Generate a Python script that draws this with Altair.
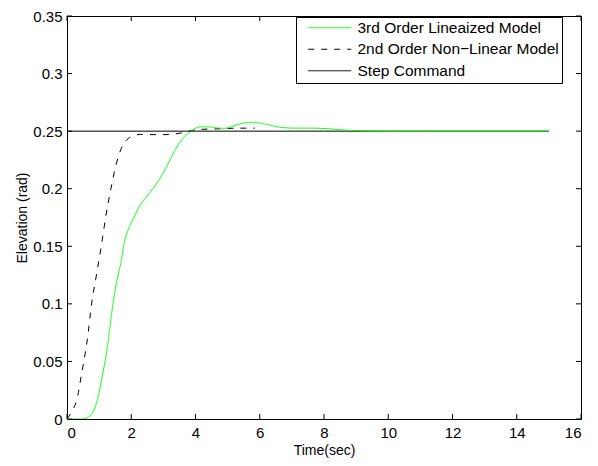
import altair as alt
import pandas as pd

# ---- data ----
series_names = ["3rd Order Lineaized Model", "2nd Order Non\u2212Linear Model", "Step Command"]

green_t = [0, 0.3, 0.5, 0.65, 0.81, 0.91, 1.01, 1.11, 1.22, 1.32, 1.42, 1.58, 1.68, 1.78,
           1.93, 2.09, 2.24, 2.55, 2.85, 3.06, 3.31, 3.57, 3.87, 4.13, 4.39, 4.69, 4.9,
           5.09, 5.51, 5.82, 6.23, 6.63, 7.15, 7.66, 8.17, 8.68, 9.19, 10.0, 11.0, 15.0]
green_v = [0, 0, 0, 0.0017, 0.006, 0.013, 0.0245, 0.039, 0.056, 0.076, 0.098, 0.124, 0.136,
           0.153, 0.166, 0.1755, 0.184, 0.1955, 0.207, 0.217, 0.231, 0.2425, 0.25, 0.2537,
           0.2537, 0.2528, 0.2524, 0.2537, 0.2571, 0.2577, 0.2557, 0.2534, 0.2526, 0.2526,
           0.252, 0.2509, 0.2503, 0.25, 0.25, 0.25]

dash_t = [0, 0.1, 0.2, 0.3, 0.45, 0.65, 0.76, 0.91, 1.06, 1.22, 1.37, 1.52, 1.68, 1.83,
          1.99, 2.29, 2.85, 3.26, 3.67, 4.08, 4.7, 5.31, 5.85]
dash_v = [0, 0.004, 0.009, 0.016, 0.0386, 0.0727, 0.099, 0.124, 0.149, 0.178, 0.2004,
          0.220, 0.2344, 0.2415, 0.2451, 0.2472, 0.2469, 0.2472, 0.2491, 0.2514, 0.252,
          0.2526, 0.2526]

step_t = [0, 15]
step_v = [0.25, 0.25]

x_ticks = [0, 2, 4, 6, 8, 10, 12, 14, 16]
y_ticks = [0, 0.05, 0.1, 0.15, 0.2, 0.25, 0.3, 0.35]

# ---- build tables ----
def table(ts, vs, name):
    return pd.DataFrame({"t": ts, "v": vs, "series": name, "i": list(range(len(ts)))})

df_green = table(green_t, green_v, series_names[0])
df_dash = table(dash_t, dash_v, series_names[1])
df_step = table(step_t, step_v, series_names[2])

W, H = 514, 403
FONT = "Liberation Sans"

xscale = alt.Scale(domain=[0, 16], nice=False, zero=False)
yscale = alt.Scale(domain=[0, 0.35], nice=False, zero=False)

xaxis = alt.Axis(values=x_ticks, title="Time(sec)", format="~g")
yaxis = alt.Axis(values=y_ticks, title="Elevation (rad)", format="~g")

color_scale = alt.Scale(domain=series_names, range=["#00ff00", "#000000", "#000000"])
dash_scale = alt.Scale(domain=series_names, range=[[1, 0], [6, 7], [1, 0]])

legend = alt.Legend(
    title=None, orient="none", legendX=229, legendY=1,
    symbolType="M-5,0H5", symbolSize=74, symbolStrokeWidth=1,
    labelFontSize=15.5, labelFont=FONT, labelColor="black", labelLimit=400,
    labelExpr="datum.label + '  '",
    labelOffset=20, symbolOffset=23,
    strokeColor="black", fillColor="white", padding=3, rowPadding=4.5, cornerRadius=0,
)


def line_layer(df):
    return alt.Chart(df).mark_line(strokeWidth=1, interpolate="monotone", clip=True).encode(
        x=alt.X("t:Q", scale=xscale, axis=xaxis),
        y=alt.Y("v:Q", scale=yscale, axis=yaxis),
        color=alt.Color("series:N", scale=color_scale, legend=legend),
        strokeDash=alt.StrokeDash("series:N", scale=dash_scale, legend=legend),
        order="i:Q",
    )


step_layer = line_layer(df_step)
dash_layer = line_layer(df_dash)
green_layer = line_layer(df_green)

xt = pd.DataFrame({"t": x_ticks})
yt = pd.DataFrame({"v": y_ticks})

tick_bottom = alt.Chart(xt).mark_rule(color="black", strokeWidth=1).encode(
    x=alt.X("t:Q", scale=xscale, axis=xaxis), y=alt.value(H), y2=alt.value(H - 5))
tick_top = alt.Chart(xt).mark_rule(color="black", strokeWidth=1).encode(
    x=alt.X("t:Q", scale=xscale, axis=xaxis), y=alt.value(0), y2=alt.value(5))
tick_left = alt.Chart(yt).mark_rule(color="black", strokeWidth=1).encode(
    y=alt.Y("v:Q", scale=yscale, axis=yaxis), x=alt.value(0), x2=alt.value(5))
tick_right = alt.Chart(yt).mark_rule(color="black", strokeWidth=1).encode(
    y=alt.Y("v:Q", scale=yscale, axis=yaxis), x=alt.value(W), x2=alt.value(W - 5))

chart = alt.layer(
    tick_bottom, tick_top, tick_left, tick_right, step_layer, dash_layer, green_layer
).properties(
    width=W, height=H,
    autosize=alt.AutoSizeParams(type="none"),
    padding={"left": 59, "top": 8, "right": 9, "bottom": 39},
).configure_view(
    stroke="black", strokeWidth=1
).configure_axis(
    domain=False, ticks=False, grid=False,
    labelFont=FONT, labelFontSize=15, labelColor="black",
    titleFont=FONT, titleFontSize=14, titleFontWeight="normal", titleColor="black",
).configure_axisX(
    labelPadding=6, titlePadding=3,
).configure_axisY(
    labelPadding=5, titlePadding=3,
)

chart.save("out.html", embed_options={"renderer": "svg", "actions": False})
